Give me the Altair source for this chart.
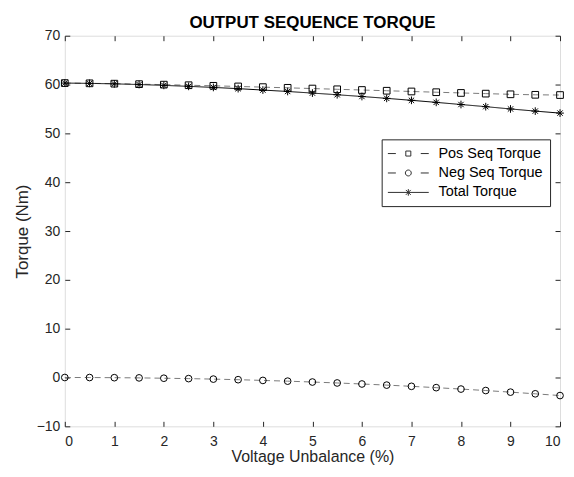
import altair as alt
import pandas as pd

unbalance = [0, 0.5, 1, 1.5, 2, 2.5, 3, 3.5, 4, 4.5, 5, 5.5, 6, 6.5, 7, 7.5, 8, 8.5, 9, 9.5, 10]
pos_seq = [60.3, 60.25, 60.18, 60.08, 59.98, 59.86, 59.74, 59.61, 59.47, 59.33, 59.18,
           59.03, 58.88, 58.73, 58.58, 58.43, 58.28, 58.14, 58.0, 57.9, 57.85]
neg_seq = [0.0, -0.01, -0.04, -0.08, -0.15, -0.23, -0.33, -0.45, -0.6, -0.75, -0.93,
           -1.12, -1.33, -1.56, -1.81, -2.08, -2.37, -2.67, -3.0, -3.34, -3.7]
total = [60.3, 60.24, 60.14, 60.0, 59.83, 59.63, 59.41, 59.16, 58.87, 58.58, 58.25,
         57.91, 57.55, 57.17, 56.77, 56.35, 55.91, 55.47, 55.0, 54.56, 54.15]
series_names = ["Pos Seq Torque", "Neg Seq Torque", "Total Torque"]
x_ticks = list(range(0, 11))
y_ticks = list(range(-10, 71, 10))

rows = []
for name, vals in zip(series_names, [pos_seq, neg_seq, total]):
    for xv, yv in zip(unbalance, vals):
        rows.append({"x": xv, "y": yv, "series": name})
df = pd.DataFrame(rows)

FONT = "Liberation Sans"
TXT = "#262626"
square = "M-1,-1L1,-1L1,1L-1,1Z"
circle = "circle"
star = "M-1.15,0L1.15,0M0,-1.15L0,1.15M-0.8,-0.8L0.8,0.8M-0.8,0.8L0.8,-0.8"

leg_pos = "M-5.86,0L-3.57,0M3.57,0L5.86,0M-0.72,-0.72L0.72,-0.72L0.72,0.72L-0.72,0.72Z"
leg_neg = ("M-5.86,0L-3.57,0M3.57,0L5.86,0M-0.85,0A0.85,0.85,0,1,1,0.85,0"
           "A0.85,0.85,0,1,1,-0.85,0")
leg_tot = ("M-5.86,0L5.86,0M0,-0.95L0,0.95M-0.7,-0.7L0.7,0.7M-0.7,0.7L0.7,-0.7")

xs = alt.Scale(domain=[0, 10], nice=False, zero=False)
ys = alt.Scale(domain=[-10, 70], nice=False, zero=False)

xaxis = alt.Axis(values=x_ticks, title="Voltage Unbalance (%)", grid=False, domain=False,
                 offset=-5, tickSize=5, tickColor=TXT, labelPadding=8,
                 labelFont=FONT, labelFontSize=14, labelColor=TXT,
                 titleFont=FONT, titleFontSize=16, titleFontWeight="normal",
                 titleColor=TXT, titlePadding=0)
yaxis = alt.Axis(values=y_ticks, title="Torque (Nm)", grid=False, domain=False,
                 offset=-5, tickSize=5, tickColor=TXT, labelPadding=5,
                 labelFont=FONT, labelFontSize=14, labelColor=TXT,
                 titleFont=FONT, titleFontSize=17, titleFontWeight="normal",
                 titleColor=TXT, titlePadding=5)
xaxis_top = alt.Axis(values=x_ticks, orient="top", title=None, labels=False, grid=False,
                     domain=False, offset=-5, tickSize=5, tickColor=TXT,
                     minExtent=0, maxExtent=0)
yaxis_right = alt.Axis(values=y_ticks, orient="right", title=None, labels=False, grid=False,
                       domain=False, offset=-5, tickSize=5, tickColor=TXT,
                       minExtent=0, maxExtent=0)

lines = alt.Chart(df).mark_line(strokeWidth=1).encode(
    x=alt.X("x:Q", scale=xs, axis=xaxis),
    y=alt.Y("y:Q", scale=ys, axis=yaxis),
    color=alt.Color("series:N", sort=series_names,
                    scale=alt.Scale(domain=series_names,
                                    range=["#7a7a7a", "#7a7a7a", "#000000"]),
                    legend=None),
    strokeDash=alt.StrokeDash("series:N", sort=series_names,
                              scale=alt.Scale(domain=series_names,
                                              range=[[6, 4], [6, 4], [1, 0]]),
                              legend=None),
)

points = alt.Chart(df).mark_point(filled=False, strokeWidth=1, color="black", size=45,
                                  opacity=1).encode(
    x=alt.X("x:Q", scale=xs, axis=xaxis_top),
    y=alt.Y("y:Q", scale=ys, axis=yaxis_right),
    shape=alt.Shape("series:N", sort=series_names,
                    scale=alt.Scale(domain=series_names, range=[square, circle, star]),
                    legend=None),
)

legend_layer = alt.Chart(df).mark_point(filled=False, strokeWidth=1, opacity=0, size=0,
                                        color="#303030").encode(
    x=alt.X("x:Q", scale=xs, axis=None),
    y=alt.Y("y:Q", scale=ys, axis=None),
    shape=alt.Shape("series:N", sort=series_names,
                    scale=alt.Scale(domain=series_names, range=[leg_pos, leg_neg, leg_tot]),
                    legend=alt.Legend(title=None, orient="none", legendX=318, legendY=104,
                                      labelFont=FONT, labelFontSize=14.5, labelColor="#000000",
                                      symbolSize=49, symbolStrokeWidth=1, symbolOpacity=1,
                                      symbolFillColor="transparent",
                                      symbolStrokeColor="#303030",
                                      symbolOffset=12.5, labelOffset=23,
                                      strokeColor=TXT, fillColor="white",
                                      padding=7, rowPadding=4.5)),
)

chart = alt.layer(lines, points, legend_layer).resolve_axis(
    x="independent", y="independent"
).resolve_scale(shape="independent").properties(
    width=560, height=457,
    autosize=alt.AutoSizeParams(type="fit", contains="padding"),
    padding={"top": 5, "left": 5, "right": 0, "bottom": 0},
    title=alt.Title("OUTPUT SEQUENCE TORQUE", font=FONT, fontSize=17, fontWeight="bold",
                    color="black", anchor="middle", offset=-3),
).configure_view(stroke=TXT, strokeWidth=1).configure(background="white")

chart.save("out.html", embed_options={"renderer": "svg", "actions": False})
